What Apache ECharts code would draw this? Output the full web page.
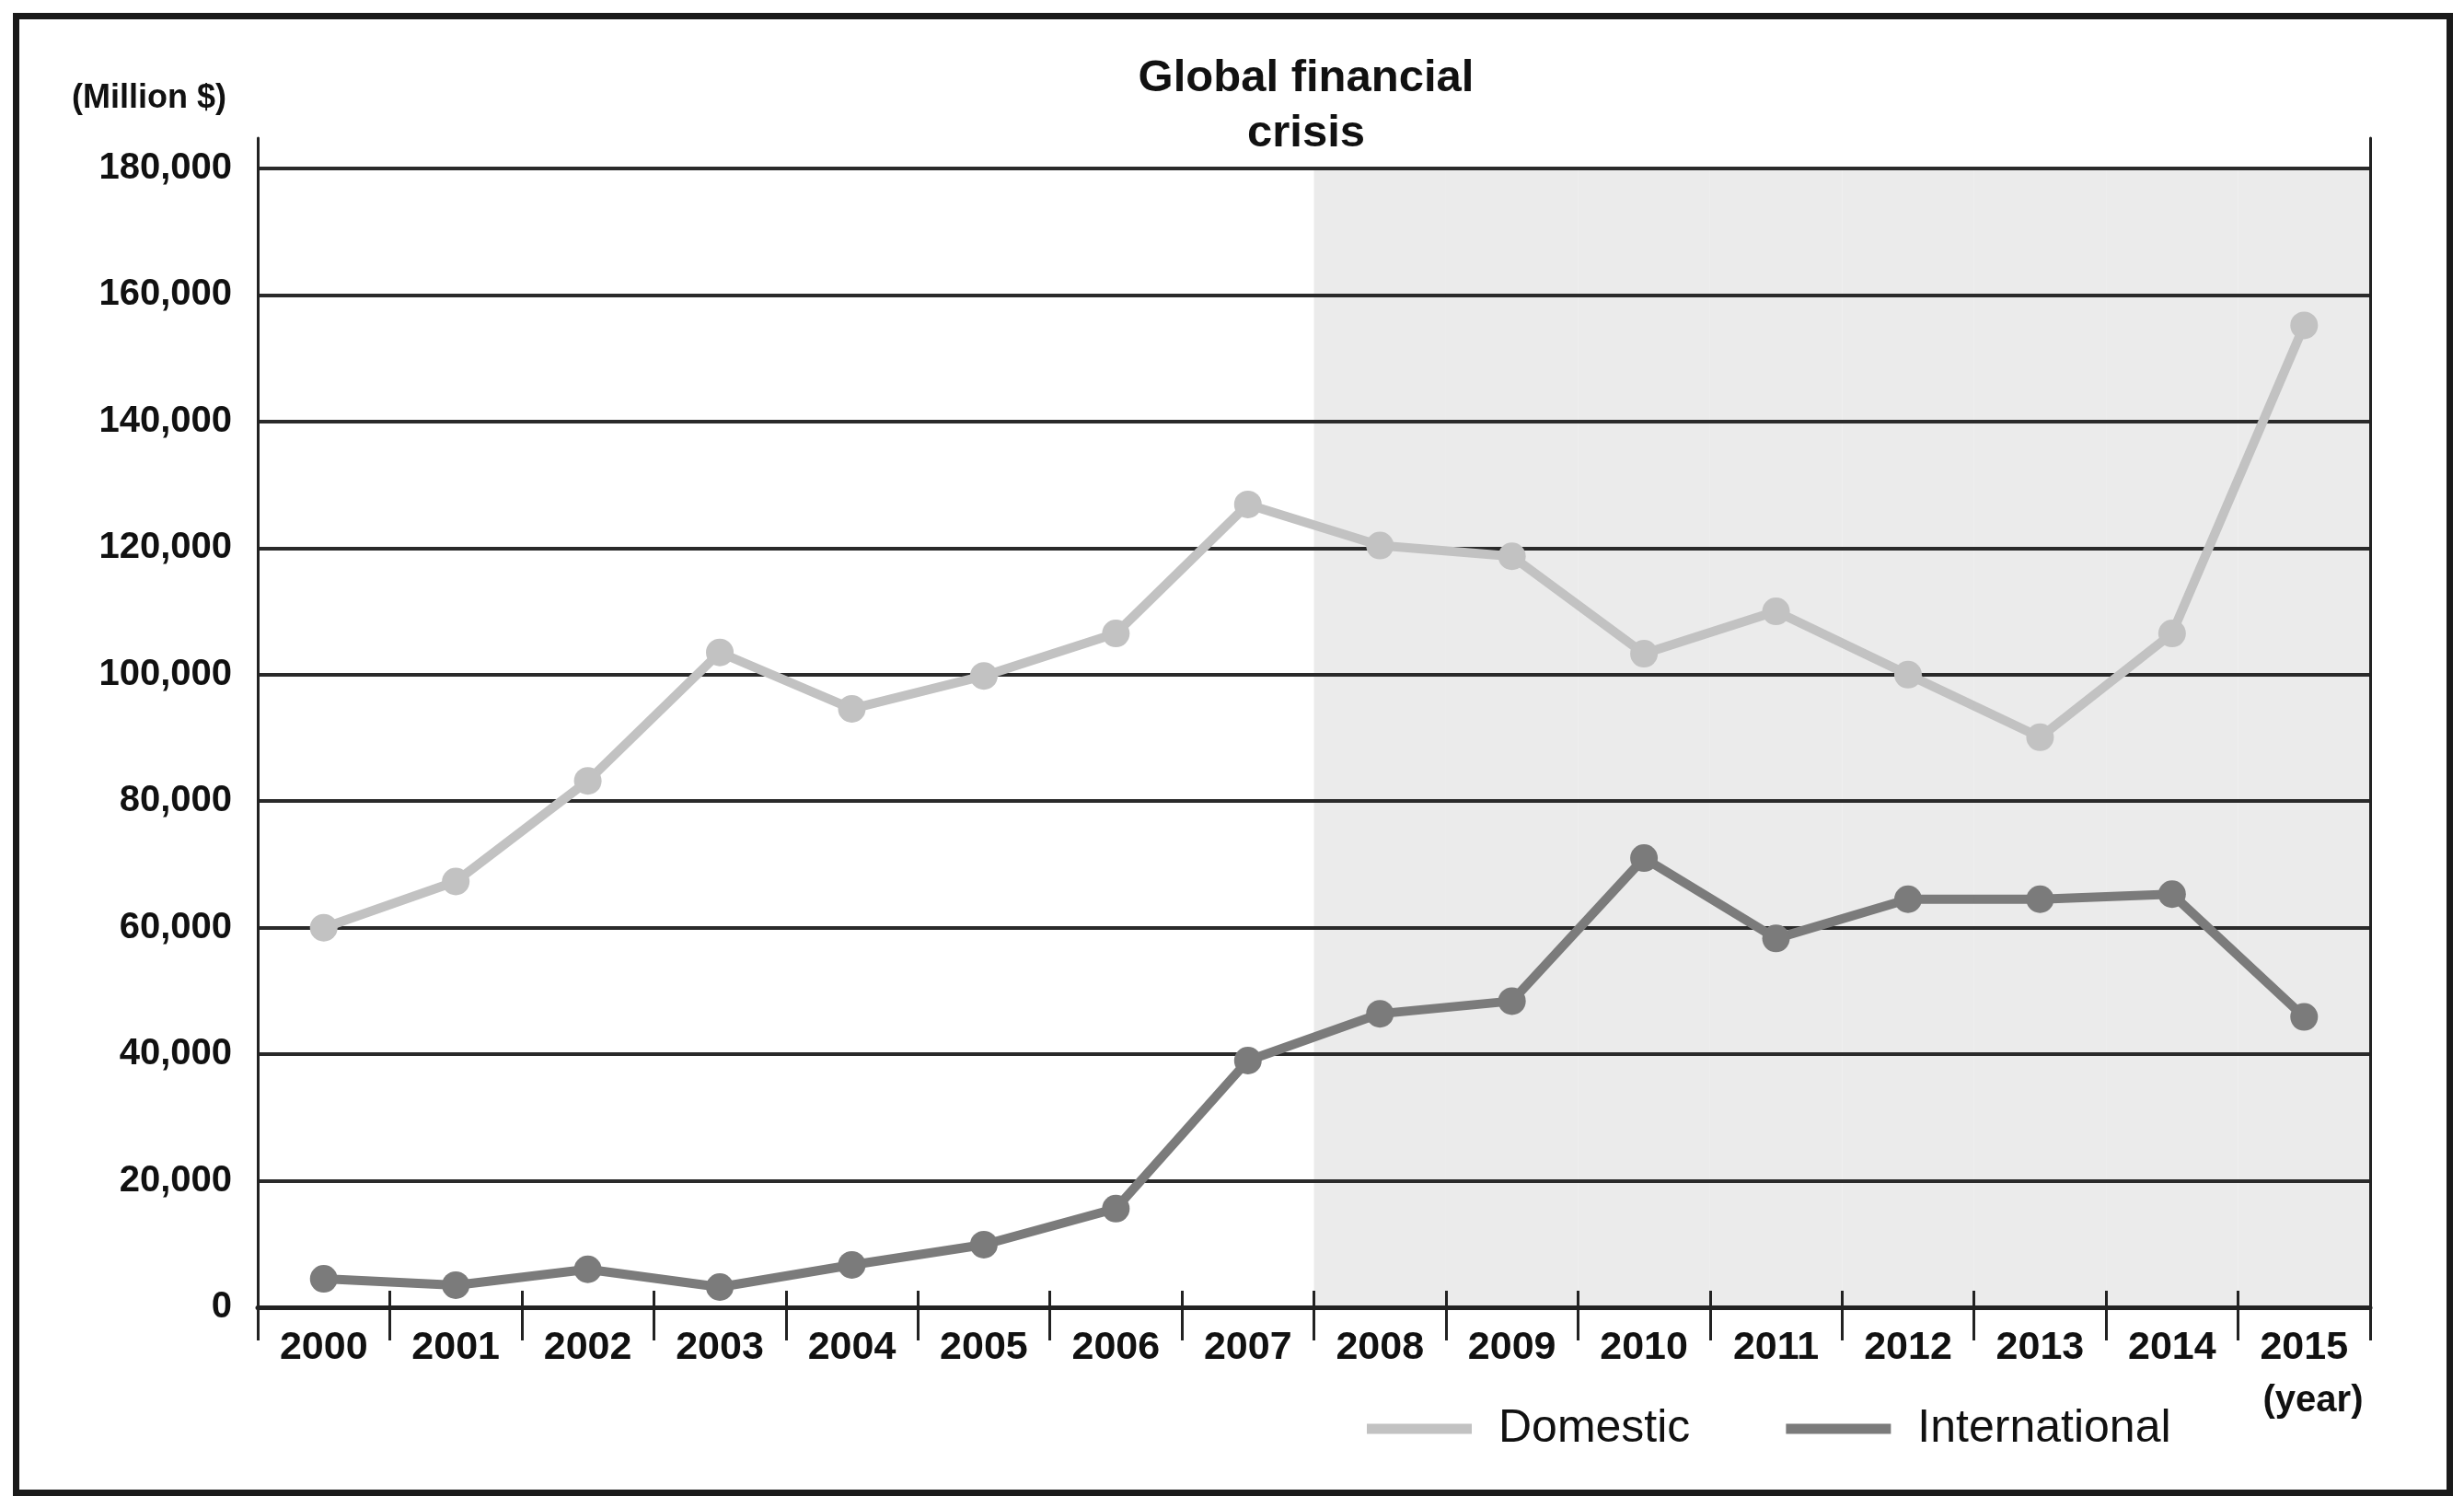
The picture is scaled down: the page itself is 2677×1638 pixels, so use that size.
<!DOCTYPE html>
<html>
<head>
<meta charset="utf-8">
<script src="https://cdn.jsdelivr.net/npm/echarts@6/dist/echarts.min.js"></script>
<style>
html,body{margin:0;padding:0;background:#fff;}
#chart{width:2677px;height:1638px;}
</style>
</head>
<body>
<div id="chart"></div>
<script>
const years = ['2000','2001','2002','2003','2004','2005','2006','2007','2008','2009','2010','2011','2012','2013','2014','2015'];
const domestic = [60000, 67300, 83200, 103500, 94600, 99800, 106500, 126900, 120400, 118700, 103300, 110000, 100000, 90100, 106500, 155200];
const international = [4500, 3500, 6000, 3200, 6700, 9900, 15600, 39000, 46400, 48400, 71000, 58300, 64500, 64500, 65300, 45900];
const crisisStartYear = '2008';
const shadeTop = 180000;
const yMin = 0, yMax = 180000, yStep = 20000;
const titleText = 'Global financial\ncrisis';
const yUnit = '(Million $)';
const xUnit = '(year)';

const crisisIdx = years.indexOf(crisisStartYear);
const shade = years.map((y, i) => i >= crisisIdx ? shadeTop : null);

const FONT = '"Liberation Sans", Arial, sans-serif';
const chart = echarts.init(document.getElementById('chart'));

chart.setOption({
  backgroundColor: '#ffffff',
  animation: false,
  title: [
    { text: titleText, left: 1414, top: 50, textAlign: 'center',
      textStyle: { fontFamily: FONT, fontWeight: 'bold', fontSize: 49, lineHeight: 60, color: '#111' } },
    { text: yUnit, left: 157, top: 84, textAlign: 'center',
      textStyle: { fontFamily: FONT, fontWeight: 'bold', fontSize: 36, color: '#111' } },
    { text: xUnit, left: 2508, top: 1497, textAlign: 'center',
      textStyle: { fontFamily: FONT, fontWeight: 'bold', fontSize: 40, color: '#111' } }
  ],
  graphic: [
    { type: 'rect', left: 14, top: 14, silent: true,
      shape: { width: 2644, height: 1604 },
      style: { fill: 'none', stroke: '#1a1a1a', lineWidth: 7 } }
  ],
  legend: {
    data: ['Domestic', 'International'],
    left: 1480, top: 1522,
    icon: 'rect', itemWidth: 114, itemHeight: 11, itemGap: 104,
    textStyle: { fontFamily: FONT, fontSize: 50, color: '#111', padding: [0, 0, 0, 24] }
  },
  grid: [
    { left: 280, right: 102, top: 183, bottom: 218 },
    { left: 280, right: 102, top: 150, bottom: 218 }
  ],
  xAxis: [
    { type: 'category', data: years, gridIndex: 0, boundaryGap: true,
      axisLine: { show: true, lineStyle: { color: '#222', width: 5 } },
      axisTick: { show: true, length: 36, lineStyle: { color: '#222', width: 3 } },
      axisLabel: { fontFamily: FONT, fontWeight: 'bold', fontSize: 43, color: '#111', margin: 23 },
      splitLine: { show: false } },
    { type: 'category', data: years, gridIndex: 0, position: 'bottom', boundaryGap: true,
      axisLine: { show: false },
      axisTick: { show: true, inside: true, length: 18, lineStyle: { color: '#222', width: 3 } },
      axisLabel: { show: false }, splitLine: { show: false } },
    { type: 'category', data: years, gridIndex: 1, show: false }
  ],
  yAxis: [
    { type: 'value', gridIndex: 0, min: yMin, max: yMax, interval: yStep,
      axisLine: { show: false }, axisTick: { show: false },
      axisLabel: { fontFamily: FONT, fontWeight: 'bold', fontSize: 40, color: '#111', margin: 28,
        formatter: v => v.toLocaleString('en-US') },
      splitLine: { show: true, lineStyle: { color: '#2a2a2a', width: 4 } } },
    { type: 'value', gridIndex: 1, position: 'left', min: 0, max: 1,
      axisLine: { show: true, lineStyle: { color: '#222', width: 3 } },
      axisTick: { show: false }, axisLabel: { show: false }, splitLine: { show: false } },
    { type: 'value', gridIndex: 1, position: 'right', min: 0, max: 1,
      axisLine: { show: true, lineStyle: { color: '#222', width: 3 } },
      axisTick: { show: false }, axisLabel: { show: false }, splitLine: { show: false } }
  ],
  series: [
    { name: 'crisis', type: 'bar', xAxisIndex: 1, yAxisIndex: 0, data: shade,
      barWidth: '100%', barCategoryGap: '0%', z: -1, silent: true,
      itemStyle: { color: '#ebebeb' } },
    { name: 'Domestic', type: 'line', xAxisIndex: 0, yAxisIndex: 0, data: domestic,
      symbol: 'circle', symbolSize: 30, z: 5,
      lineStyle: { color: '#c2c2c2', width: 10 },
      itemStyle: { color: '#c2c2c2' } },
    { name: 'International', type: 'line', xAxisIndex: 0, yAxisIndex: 0, data: international,
      symbol: 'circle', symbolSize: 30, z: 5,
      lineStyle: { color: '#7b7b7b', width: 10 },
      itemStyle: { color: '#7b7b7b' } }
  ]
});
</script>
</body>
</html>
